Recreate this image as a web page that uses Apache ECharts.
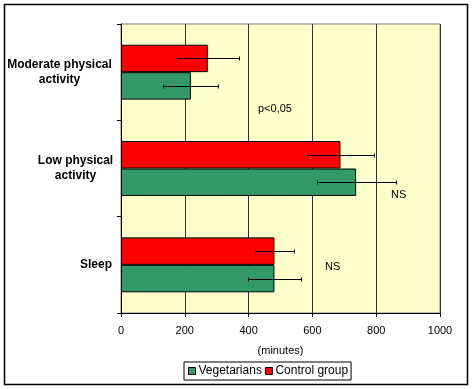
<!DOCTYPE html>
<html>
<head>
<meta charset="utf-8">
<script src="https://cdn.jsdelivr.net/npm/echarts@6/dist/echarts.min.js"></script>
<style>html,body{margin:0;padding:0;background:#fff}#c{width:473px;height:389px}</style>
</head>
<body>
<div id="c"></div>
<script>
// Data (bottom-to-top order along the category axis)
var categories = ['Sleep', 'Low physical activity', 'Moderate physical activity'];
var vegetarians = [481, 737, 219];
var vegetariansErr = [84, 124, 86];
var control = [481, 688, 272];
var controlErr = [61, 104, 97];
var xTicks = [0, 200, 400, 600, 800, 1000];
var seriesNames = ['Vegetarians', 'Control group'];

var FONT = 'Liberation Sans, Arial, sans-serif';
var GAP = 0.43;

var chart = echarts.init(document.getElementById('c'), null, {renderer: 'canvas'});

function errData(vals, errs, idx) {
  return vals.map(function (v, i) { return [v, i, errs[i], idx]; });
}

function renderErr(params, api) {
  var v = api.value(0), ci = api.value(1), e = api.value(2), si = api.value(3);
  var c = api.coord([v, ci]);
  var band = api.size([0, 1])[1];
  var bw = band * (1 - GAP) / 2;
  // Vegetarians (0) sit below band center, Control group (1) above
  var y = c[1] + (si === 0 ? bw / 2 : -bw / 2);
  var x1 = api.coord([v - e, ci])[0];
  var x2 = api.coord([v + e, ci])[0];
  y = Math.round(y) + 0.5;
  x1 = Math.round(x1) + 0.5; x2 = Math.round(x2) + 0.5;
  var st = {stroke: '#000', lineWidth: 1};
  return {
    type: 'group',
    children: [
      {type: 'line', shape: {x1: x1, y1: y, x2: x2, y2: y}, style: st},
      {type: 'line', shape: {x1: x1, y1: y - 2, x2: x1, y2: y + 2}, style: st},
      {type: 'line', shape: {x1: x2, y1: y - 2, x2: x2, y2: y + 2}, style: st}
    ]
  };
}

var boldRich = function (w) {
  var o = {fontFamily: FONT, fontSize: 12, fontWeight: 'bold', color: '#000', lineHeight: 15};
  if (w) { o.width = w; o.align = 'center'; }
  return o;
};

var option = {
  animation: false,
  backgroundColor: '#fff',
  textStyle: {fontFamily: FONT},
  grid: {
    left: 121, top: 24, right: 33, bottom: 76,
    show: true, backgroundColor: '#FFFFCC', borderColor: '#808080', borderWidth: 1
  },
  legend: {
    data: seriesNames,
    left: 184, top: 362,
    orient: 'horizontal',
    itemWidth: 7, itemHeight: 7, itemGap: 3,
    padding: [3, 3, 3, 4],
    borderColor: '#000', borderWidth: 1,
    icon: 'rect',
    itemStyle: {borderColor: '#000', borderWidth: 1},
    textStyle: {fontFamily: FONT, fontSize: 12, color: '#000', padding: [0, 0, 0, -2]}
  },
  xAxis: {
    type: 'value', min: 0, max: 1000, interval: 200,
    name: '(minutes)', nameLocation: 'middle', nameGap: 32,
    nameTextStyle: {fontFamily: FONT, fontSize: 11, color: '#000'},
    axisLine: {show: true, lineStyle: {color: '#000', width: 1}},
    axisTick: {show: true, length: 4, lineStyle: {color: '#000'}},
    axisLabel: {fontFamily: FONT, fontSize: 11, color: '#000', margin: 12,
      formatter: function (v) { return xTicks.indexOf(v) >= 0 ? String(v) : ''; }},
    splitLine: {show: true, lineStyle: {color: '#333', width: 1}}
  },
  yAxis: {
    type: 'category', data: categories,
    axisLine: {show: true, lineStyle: {color: '#000', width: 1}},
    axisTick: {show: true, length: 4, lineStyle: {color: '#000'}},
    axisLabel: {
      margin: 9, fontFamily: FONT, fontSize: 12, fontWeight: 'bold', color: '#000', lineHeight: 15,
      formatter: function (v) {
        if (v === 'Moderate physical activity') return '{m|Moderate physical}\n{m|activity}';
        if (v === 'Low physical activity') return '{l|Low physical}\n{l|activity}';
        return '{s|' + v + '}';
      },
      rich: {m: boldRich(105), l: boldRich(73), s: boldRich(0)}
    },
    splitLine: {show: false}
  },
  series: [
    {
      name: seriesNames[1], type: 'bar', data: control,
      barGap: '0%', barCategoryGap: (GAP * 100) + '%',
      itemStyle: {color: '#FF0000', borderColor: '#000', borderWidth: 1}
    },
    {
      name: seriesNames[0], type: 'bar', data: vegetarians,
      barGap: '0%', barCategoryGap: (GAP * 100) + '%',
      itemStyle: {color: '#339966', borderColor: '#000', borderWidth: 1}
    },
    {
      type: 'custom', renderItem: renderErr, data: errData(vegetarians, vegetariansErr, 0),
      encode: {x: 0, y: 1}, z: 10, silent: true
    },
    {
      type: 'custom', renderItem: renderErr, data: errData(control, controlErr, 1),
      encode: {x: 0, y: 1}, z: 10, silent: true
    }
  ],
  graphic: [
    {type: 'rect', shape: {x: 4.5, y: 4.5, width: 463, height: 380},
      style: {fill: 'none', stroke: '#000', lineWidth: 1.5}, z: -1, silent: true},
    {type: 'text', x: 258, y: 103, style: {text: 'p<0,05', font: '11px ' + FONT, fill: '#000'}, z: 20},
    {type: 'text', x: 391, y: 189, style: {text: 'NS', font: '11px ' + FONT, fill: '#000'}, z: 20},
    {type: 'text', x: 325, y: 261, style: {text: 'NS', font: '11px ' + FONT, fill: '#000'}, z: 20}
  ]
};
chart.setOption(option);
</script>
</body>
</html>
